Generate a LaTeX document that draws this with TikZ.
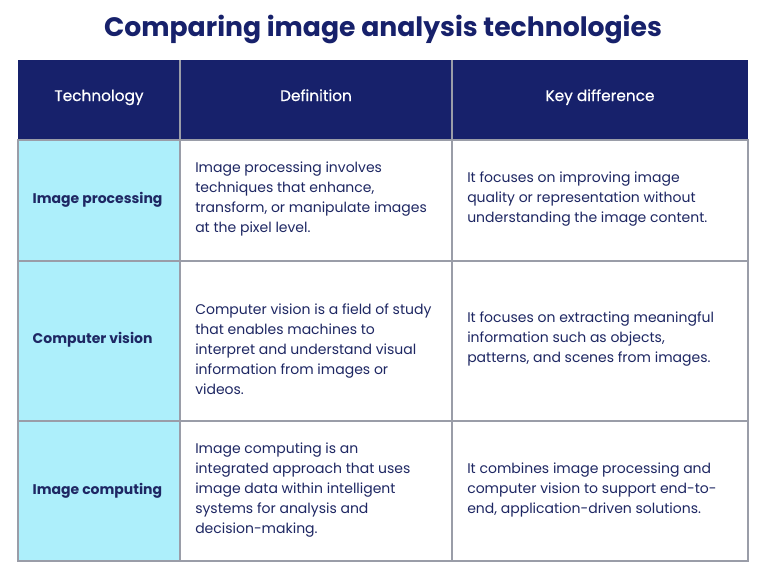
\documentclass[tikz,border=0pt]{standalone}
\usepackage{fontspec}
\setmainfont{Poppins}
\newfontfamily\headfont[FakeBold=0.5]{Poppins}
\definecolor{navy}{HTML}{17216B}
\definecolor{ink}{HTML}{1E2763}
\definecolor{aqua}{HTML}{ADEFFB}
\definecolor{rule}{HTML}{9A9DA8}
\tikzset{
  head/.style={text=white,font=\fontsize{11.5}{15}\headfont,anchor=center,text height=1.6ex,text depth=0.5ex},
  tech/.style={text=ink,font=\fontsize{10.5}{15}\selectfont\bfseries,anchor=west,text height=1.6ex,text depth=0.5ex},
  body/.style={text=ink,font=\fontsize{10.5}{15}\selectfont,anchor=west,align=left,inner sep=0pt}
}
\begin{document}
\begin{tikzpicture}[x=0.75pt,y=-0.75pt]
  \useasboundingbox (0,0) rectangle (766,575);
  \fill[white] (0,0) rectangle (766,575);
  % titolo
  \node[text=navy,font=\fontsize{20}{24}\selectfont\bfseries,text height=1.6ex,text depth=0.5ex] (title) at (383,32) {Comparing image analysis technologies};
  % celle
  \fill[navy] (18,60) rectangle (748,140);
  \fill[aqua] (18,140) rectangle (180,561);
  \draw[rule,line width=0.8pt] (18,140) rectangle (748,561);
  \draw[rule,line width=0.8pt] (18,261) -- (748,261);
  \draw[rule,line width=0.8pt] (18,421) -- (748,421);
  \draw[rule,line width=0.8pt] (180,60) -- (180,561);
  \draw[rule,line width=0.8pt] (452,60) -- (452,561);
  % intestazione
  \node[head] (hTech) at (99,97) {Technology};
  \node[head] (hDef) at (316,97) {Definition};
  \node[head] (hKey) at (600,97) {Key difference};
  % prima riga
  \node[tech] (tProc) at (28,199) {Image processing};
  \node[body] (dProc) at (195,199) {Image processing involves\\techniques that enhance,\\transform, or manipulate images\\at the pixel level.};
  \node[body] (kProc) at (467,199) {It focuses on improving image\\quality or representation without\\understanding the image content.};
  % seconda riga
  \node[tech] (tVis) at (28,339) {Computer vision};
  \node[body] (dVis) at (195,349) {Computer vision is a field of study\\that enables machines to\\interpret and understand visual\\information from images or\\videos.};
  \node[body] (kVis) at (467,339) {It focuses on extracting meaningful\\information such as objects,\\patterns, and scenes from images.};
  % terza riga
  \node[tech] (tComp) at (28,490) {Image computing};
  \node[body] (dComp) at (195,490) {Image computing is an\\integrated approach that uses\\image data within intelligent\\systems for analysis and\\decision-making.};
  \node[body] (kComp) at (467,490) {It combines image processing and\\computer vision to support end-to-\\end, application-driven solutions.};
\end{tikzpicture}
\end{document}
